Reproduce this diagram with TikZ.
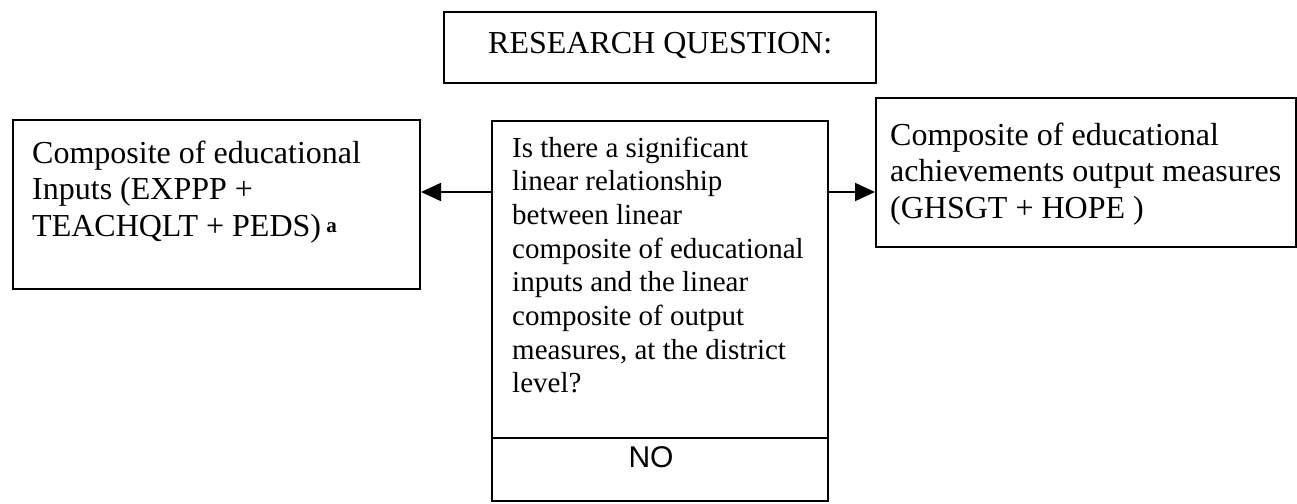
\documentclass[tikz,border=0pt]{standalone}
\usepackage{fontspec}
\setmainfont{Liberation Serif}
\newfontfamily\arialfont{Liberation Sans}
\usetikzlibrary{arrows.meta}

% text blocks: first-line baseline is the node's base anchor
\newcommand{\txtblock}[4]{\parbox[t]{#1}{\fontsize{#2}{#3}\selectfont\raggedright #4}}

\begin{document}
\begin{tikzpicture}[x=1pt,y=-1pt,
  box/.style={draw=black, line width=2pt, rectangle, inner sep=0pt, anchor=north west},
  txt/.style={inner sep=0pt, anchor=base west},
  arr/.style={draw=black, line width=2pt, -{Triangle[length=20pt,width=18pt]}}]

\useasboundingbox (0,0) rectangle (1297,503);

% frames
\node[box, minimum width=432pt, minimum height=71pt]  (question) at (443,11) {};
\node[box, minimum width=407pt, minimum height=169pt] (inputs)   at (12,119) {};
\node[box, minimum width=336pt, minimum height=380pt] (central)  at (491,120) {};
\node[box, minimum width=420pt, minimum height=149pt] (outputs)  at (875,97) {};

% divider above the answer
\coordinate (divrow) at (0,438);
\draw[line width=2pt] (central.west |- divrow) -- (central.east |- divrow);

% texts
\node[txt] (questiontext) at (488,53) {\fontsize{32}{36.6}\selectfont RESEARCH QUESTION:};

\node[txt] (inputstext) at (32,163) {\txtblock{380pt}{32}{36.6}{%
  Composite of educational\\
  Inputs (EXPPP +\\
  TEACHQLT + PEDS)\,\raisebox{4pt}{\fontsize{21}{21}\selectfont\bfseries a}}};

\node[txt] (centraltext) at (512,157) {\txtblock{310pt}{29}{33.7}{%
  Is there a significant\\
  linear relationship\\
  between linear\\
  composite of educational\\
  inputs and the linear\\
  composite of output\\
  measures, at the district\\
  level?}};

\node[txt] (outputstext) at (890,145) {\txtblock{400pt}{32}{36.6}{%
  Composite of educational\\
  achievements output measures\\
  (GHSGT + HOPE )}};

\node[inner sep=0pt, anchor=base] (answer) at (651,467) {\arialfont\fontsize{30}{34}\selectfont NO};

% connectors
\coordinate (arrowrow) at (0,192);
\draw[arr] (central.west |- arrowrow) -- (inputs.east |- arrowrow);
\draw[arr] (central.east |- arrowrow) -- (outputs.west |- arrowrow);

\end{tikzpicture}
\end{document}
